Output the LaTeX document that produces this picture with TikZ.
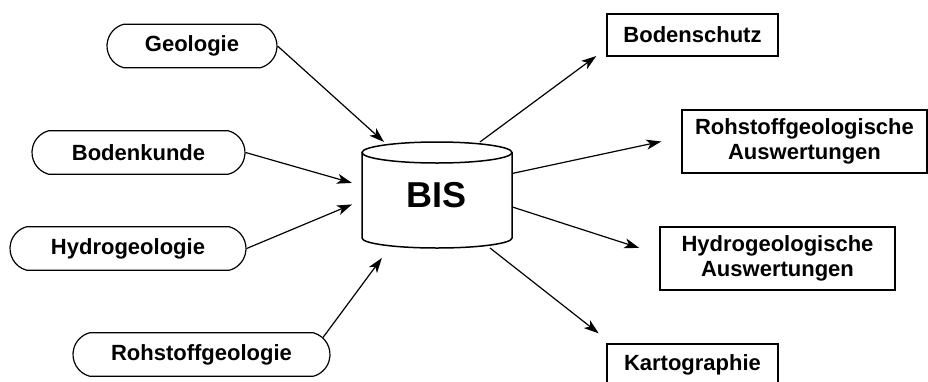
\documentclass[tikz,border=0pt]{standalone}
\usepackage{fontspec}
\setmainfont{Liberation Sans}
\usetikzlibrary{shapes.misc,arrows.meta}

\begin{document}
\begin{tikzpicture}[x=0.5pt,y=-0.5pt,
  font=\fontsize{11}{12.5}\selectfont\bfseries,
  source/.style={draw,line width=0.6pt,rounded rectangle,rounded rectangle arc length=150,minimum height=21.75pt,inner sep=0pt},
  target/.style={draw,line width=0.75pt,rectangle,align=center,inner sep=0pt},
  flow/.style={-{Stealth[length=7.5pt,width=5pt,inset=2pt]},line width=0.6pt}]

\useasboundingbox (0,0) rectangle (928,381);

% data sources
\node[source,minimum width=85pt]    (geo)    at (192,46)    {Geologie};
\node[source,minimum width=106.5pt] (bkunde) at (138.5,152.5) {Bodenkunde};
\node[source,minimum width=118pt]   (hgeo)   at (128,248.5)  {Hydrogeologie};
\node[source,minimum width=128.5pt] (rgeo)   at (201.5,354.5) {Rohstoffgeologie};

% the database
\node[minimum width=75pt,minimum height=53pt,inner sep=0pt,outer sep=0pt,
      font=\fontsize{18}{18}\selectfont\bfseries] (bis) at (437,195) {BIS};
\draw[line width=0.75pt] ([yshift=-5.25pt]bis.north west) -- ([yshift=5pt]bis.south west)
  arc[start angle=180,end angle=360,x radius=37.5pt,y radius=5pt] -- ([yshift=-5.25pt]bis.north east);
\draw[line width=0.75pt] ([yshift=-5.25pt]bis.north) ellipse[x radius=37.5pt,y radius=5.25pt];

% products
\node[target,minimum width=85.5pt,minimum height=21pt]    (bsch)  at (692.5,35)    {Bodenschutz};
\node[target,minimum width=122.5pt,minimum height=31.5pt] (rausw) at (804.5,141.5) {Rohstoffgeologische\\Auswertungen};
\node[target,minimum width=117.5pt,minimum height=31.5pt] (hausw) at (777.5,258.5) {Hydrogeologische\\Auswertungen};
\node[target,minimum width=85.5pt,minimum height=21pt]    (kart)  at (692.5,365)   {Kartographie};

% arrows in
\draw[flow] (geo.east) -- (bis.135);
\draw[flow,shorten >=5.2pt] (bkunde.east) -- (bis.173);
\draw[flow,shorten >=5.4pt] (hgeo.east) -- (bis.184.6);
\draw[flow,shorten >=6.2pt] (rgeo.8) -- (bis.228.6);

% arrows out
\draw[flow,shorten >=6.2pt]  (bis.51.7) -- (bsch.189.8);
\draw[flow,shorten >=10.2pt] (bis.16.3) -- (rausw.178.3);
\draw[flow,shorten >=10.5pt] (bis.-9.1) -- (hausw.178);
\draw[flow,shorten >=8pt]    (bis.-45)  -- (kart.165.8);
\end{tikzpicture}
\end{document}
